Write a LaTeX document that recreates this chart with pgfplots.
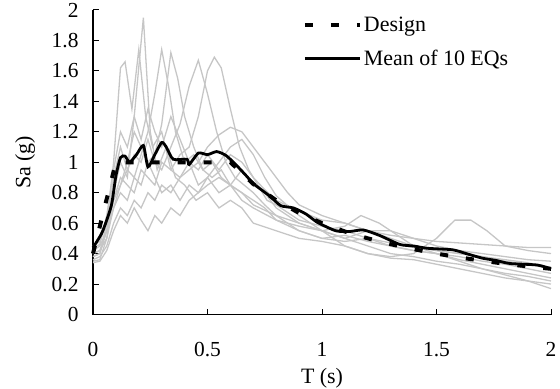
\documentclass[border=0pt]{standalone}
\usepackage{pgfplots}
\pgfplotsset{compat=1.18}
\usepackage{fontspec}
\setmainfont{Liberation Serif}
\definecolor{lg}{RGB}{198,198,198}
\begin{document}
\begin{tikzpicture}
\begin{axis}[
  scale only axis, width=458bp, height=304.5bp,
  xmin=0, xmax=2, ymin=0, ymax=2,
  axis x line=bottom, axis y line=left,
  axis line style={-, line width=1.1bp, black},
  tick style={line width=1bp, black},
  tick align=inside, major tick length=6bp,
  xtick={0,0.5,1,1.5,2},
  ytick={0,0.2,0.4,0.6,0.8,1,1.2,1.4,1.6,1.8,2},
  /pgf/number format/assume math mode=true,
  /pgf/number format/fixed,
  tick label style={font=\fontsize{21.5}{24}\selectfont},
  xticklabel style={yshift=-24bp},
  yticklabel style={xshift=-11bp},
  xlabel={T (s)}, ylabel={Sa (g)},
  label style={font=\fontsize{22}{25}\selectfont},
  xlabel style={at={(axis description cs:0.5,-0.225)}, anchor=base},
  ylabel style={at={(axis description cs:-0.148,0.5)}, anchor=center},
  legend style={at={(axis description cs:0.458,0.985)}, anchor=north west,
    draw=none, fill=none, inner sep=0pt, row sep=13bp,
    font=\fontsize{22}{25}\selectfont, cells={anchor=west}},
  legend image code/.code={\draw[#1] (0bp,0bp) -- (55bp,0bp);},
  clip=false,
]
% ten earthquake spectra
\addplot[lg, line width=1.3bp, forget plot] coordinates {
(0,0.35) (0.03,0.36) (0.06,0.5) (0.09,0.8) (0.12,1.0) (0.15,0.9) (0.18,1.3) (0.22,1.95) (0.25,1.2) (0.28,0.95) (0.32,1.1) (0.36,0.9) (0.4,0.85) (0.45,0.75) (0.5,0.8) (0.55,0.7) (0.6,0.75) (0.65,0.7) (0.7,0.6) (0.8,0.55) (0.9,0.5) (1.0,0.48) (1.1,0.45) (1.2,0.4) (1.3,0.37) (1.4,0.36) (1.5,0.33) (1.6,0.3) (1.7,0.27) (1.8,0.24) (1.9,0.22) (2.0,0.2)};
\addplot[lg, line width=1.3bp, forget plot] coordinates {
(0,0.38) (0.03,0.4) (0.06,0.6) (0.09,1.0) (0.12,1.62) (0.14,1.66) (0.17,1.35) (0.2,1.74) (0.23,1.3) (0.26,1.1) (0.3,1.2) (0.34,0.95) (0.38,0.9) (0.42,1.0) (0.46,0.85) (0.5,0.9) (0.55,0.8) (0.6,0.85) (0.65,0.75) (0.7,0.7) (0.8,0.62) (0.9,0.55) (1.0,0.5) (1.1,0.52) (1.2,0.48) (1.3,0.45) (1.4,0.42) (1.5,0.4) (1.6,0.36) (1.7,0.33) (1.8,0.3) (1.9,0.27) (2.0,0.24)};
\addplot[lg, line width=1.3bp, forget plot] coordinates {
(0,0.42) (0.03,0.45) (0.06,0.55) (0.09,0.75) (0.12,0.85) (0.15,0.95) (0.18,0.9) (0.21,1.05) (0.24,1.2) (0.27,1.45) (0.3,1.74) (0.33,1.5) (0.36,1.2) (0.4,1.0) (0.44,1.05) (0.48,0.95) (0.52,0.9) (0.56,0.95) (0.6,0.85) (0.65,0.8) (0.7,0.72) (0.8,0.65) (0.9,0.55) (1.0,0.5) (1.1,0.48) (1.2,0.5) (1.3,0.47) (1.4,0.44) (1.5,0.42) (1.6,0.4) (1.7,0.38) (1.8,0.36) (1.9,0.34) (2.0,0.3)};
\addplot[lg, line width=1.3bp, forget plot] coordinates {
(0,0.4) (0.03,0.42) (0.06,0.5) (0.09,0.7) (0.12,0.8) (0.15,0.75) (0.18,0.9) (0.21,0.85) (0.24,1.0) (0.27,1.05) (0.3,1.25) (0.34,1.72) (0.37,1.55) (0.4,1.3) (0.44,1.1) (0.48,0.95) (0.52,1.0) (0.56,0.9) (0.6,0.85) (0.65,0.8) (0.7,0.75) (0.75,0.7) (0.8,0.62) (0.9,0.58) (1.0,0.55) (1.1,0.5) (1.2,0.45) (1.3,0.4) (1.4,0.38) (1.5,0.35) (1.6,0.33) (1.7,0.3) (1.8,0.27) (1.9,0.25) (2.0,0.22)};
\addplot[lg, line width=1.3bp, forget plot] coordinates {
(0,0.38) (0.03,0.4) (0.06,0.55) (0.09,0.9) (0.12,1.1) (0.15,0.95) (0.18,1.05) (0.21,1.0) (0.24,1.15) (0.27,1.0) (0.3,0.95) (0.34,1.1) (0.38,1.25) (0.42,1.5) (0.46,1.67) (0.5,1.45) (0.54,1.2) (0.58,1.0) (0.62,0.9) (0.66,0.85) (0.7,0.8) (0.75,0.72) (0.8,0.65) (0.9,0.6) (1.0,0.55) (1.1,0.5) (1.2,0.55) (1.3,0.5) (1.4,0.45) (1.5,0.42) (1.6,0.4) (1.7,0.38) (1.8,0.35) (1.9,0.33) (2.0,0.3)};
\addplot[lg, line width=1.3bp, forget plot] coordinates {
(0,0.45) (0.03,0.48) (0.06,0.6) (0.09,0.75) (0.12,0.9) (0.15,0.85) (0.18,0.8) (0.21,0.95) (0.24,0.9) (0.27,0.85) (0.3,1.0) (0.34,0.95) (0.38,1.05) (0.42,1.1) (0.46,1.3) (0.5,1.6) (0.53,1.69) (0.56,1.62) (0.6,1.35) (0.64,1.1) (0.68,0.95) (0.72,0.85) (0.76,0.75) (0.8,0.72) (0.9,0.62) (1.0,0.58) (1.1,0.55) (1.2,0.5) (1.3,0.45) (1.4,0.42) (1.5,0.4) (1.6,0.38) (1.7,0.35) (1.8,0.33) (1.9,0.3) (2.0,0.27)};
\addplot[lg, line width=1.3bp, forget plot] coordinates {
(0,0.36) (0.03,0.38) (0.06,0.45) (0.09,0.6) (0.12,0.7) (0.15,0.65) (0.18,0.75) (0.21,0.7) (0.24,0.8) (0.27,0.75) (0.3,0.85) (0.34,0.8) (0.38,0.9) (0.42,0.95) (0.46,1.0) (0.5,1.1) (0.55,1.18) (0.6,1.23) (0.65,1.2) (0.7,1.1) (0.75,1.0) (0.8,0.9) (0.85,0.8) (0.9,0.72) (1.0,0.65) (1.1,0.6) (1.2,0.55) (1.3,0.52) (1.4,0.5) (1.5,0.48) (1.6,0.47) (1.7,0.46) (1.8,0.45) (1.9,0.44) (2.0,0.44)};
\addplot[lg, line width=1.3bp, forget plot] coordinates {
(0,0.4) (0.03,0.42) (0.06,0.55) (0.09,0.7) (0.12,0.85) (0.15,1.0) (0.18,1.2) (0.21,1.1) (0.24,1.0) (0.27,0.9) (0.3,0.8) (0.34,0.85) (0.38,0.75) (0.42,0.85) (0.46,0.8) (0.5,0.9) (0.55,1.0) (0.6,1.1) (0.65,1.15) (0.7,1.05) (0.75,0.9) (0.8,0.78) (0.9,0.65) (1.0,0.55) (1.1,0.45) (1.2,0.4) (1.3,0.38) (1.4,0.4) (1.5,0.5) (1.58,0.62) (1.65,0.62) (1.72,0.55) (1.8,0.45) (1.9,0.42) (2.0,0.4)};
\addplot[lg, line width=1.3bp, forget plot] coordinates {
(0,0.34) (0.03,0.35) (0.06,0.42) (0.09,0.55) (0.12,0.65) (0.15,0.6) (0.18,0.7) (0.21,0.62) (0.24,0.55) (0.27,0.65) (0.3,0.6) (0.34,0.7) (0.38,0.65) (0.42,0.75) (0.46,0.8) (0.5,0.85) (0.55,0.9) (0.6,0.85) (0.65,0.95) (0.7,0.85) (0.75,0.8) (0.8,0.7) (0.9,0.6) (1.0,0.55) (1.1,0.58) (1.17,0.65) (1.25,0.6) (1.3,0.55) (1.4,0.45) (1.5,0.4) (1.6,0.35) (1.7,0.3) (1.8,0.26) (1.9,0.22) (2.0,0.17)};
\addplot[lg, line width=1.3bp, forget plot] coordinates {
(0,0.44) (0.03,0.46) (0.06,0.65) (0.09,0.95) (0.12,1.2) (0.15,1.1) (0.18,1.3) (0.21,1.15) (0.24,1.35) (0.27,1.2) (0.3,1.1) (0.34,1.3) (0.38,1.15) (0.42,1.0) (0.46,0.95) (0.5,1.05) (0.55,0.95) (0.6,1.05) (0.65,1.0) (0.7,0.9) (0.75,0.82) (0.8,0.75) (0.9,0.68) (1.0,0.62) (1.1,0.6) (1.2,0.55) (1.3,0.55) (1.4,0.5) (1.5,0.45) (1.6,0.42) (1.7,0.4) (1.8,0.38) (1.9,0.36) (2.0,0.35)};
% design spectrum
\addplot[black, line width=4bp, dash pattern=on 8bp off 18bp] coordinates {
(0,0.4) (0.1,1.0) (0.6,1.0) (0.7,0.857) (0.8,0.75) (0.9,0.667) (1.0,0.6) (1.1,0.545) (1.2,0.5) (1.3,0.462) (1.4,0.429) (1.5,0.4) (1.6,0.375) (1.7,0.353) (1.8,0.333) (1.9,0.316) (2.0,0.3)};
\addlegendentry{Design}
% mean of 10 records
\addplot[black, line width=2.8bp, smooth, tension=0.4] coordinates {
(0,0.44) (0.04,0.54) (0.08,0.715) (0.10,0.91) (0.12,1.03) (0.14,1.04) (0.16,1.0) (0.19,1.05) (0.22,1.11) (0.24,0.97) (0.27,1.05) (0.30,1.13) (0.32,1.10) (0.35,1.02) (0.41,1.02) (0.42,0.985) (0.46,1.06) (0.50,1.05) (0.54,1.07) (0.58,1.045) (0.62,0.99) (0.67,0.91) (0.70,0.86) (0.77,0.78) (0.82,0.715) (0.875,0.70) (0.93,0.66) (0.98,0.605) (1.06,0.55) (1.12,0.545) (1.18,0.555) (1.25,0.52) (1.34,0.46) (1.40,0.45) (1.46,0.435) (1.57,0.425) (1.63,0.40) (1.70,0.37) (1.76,0.355) (1.82,0.335) (1.94,0.325) (2.0,0.30)};
\addlegendentry{Mean of 10 EQs}
\end{axis}
\pgfresetboundingbox
\path[use as bounding box] (-93bp,-74.5bp) rectangle (467bp,314.5bp);
\end{tikzpicture}
\end{document}
